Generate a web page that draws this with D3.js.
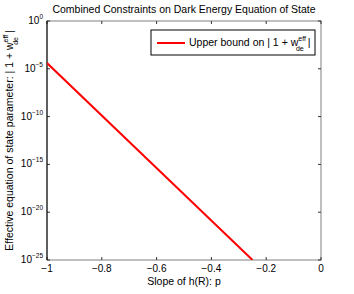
<!DOCTYPE html>
<html>
<head>
<meta charset="utf-8">
<script src="https://cdn.jsdelivr.net/npm/d3@7"></script>
<style>
body { margin: 0; background: #fff; }
text { font-family: "Liberation Sans", Arial, sans-serif; }
</style>
</head>
<body>
<script>
// values
var slopeP = [-1, -0.25];
var upperBound = [4e-5, 1e-25];
var xTicks = [-1, -0.8, -0.6, -0.4, -0.2, 0];
var yTickExp = [0, -5, -10, -15, -20, -25];

var width = 354, height = 294;
var pLeft = 47, pRight = 321, pTop = 21, pBottom = 260;

var svg = d3.select("body").append("svg")
  .attr("width", width).attr("height", height);

var x = d3.scaleLinear().domain([-1, 0]).range([pLeft, pRight]);
var y = d3.scaleLog().domain([1e-25, 1]).range([pBottom, pTop]);

svg.append("defs").append("clipPath").attr("id", "clip")
  .append("rect").attr("x", pLeft).attr("y", pTop)
  .attr("width", pRight - pLeft).attr("height", pBottom - pTop);

// box
svg.append("rect").attr("x", pLeft).attr("y", pTop)
  .attr("width", pRight - pLeft).attr("height", pBottom - pTop)
  .attr("fill", "none").attr("stroke", "#808080").attr("stroke-width", 1);

// ticks
var fmt = function(d){ return d === 0 ? "0" : String(d).replace("-", "\u2212"); };
xTicks.forEach(function(t){
  svg.append("line").attr("x1", x(t)).attr("x2", x(t))
    .attr("y1", pBottom).attr("y2", pBottom - 3).attr("stroke", "#333");
  svg.append("line").attr("x1", x(t)).attr("x2", x(t))
    .attr("y1", pTop).attr("y2", pTop + 3).attr("stroke", "#333");
  svg.append("text").attr("x", x(t)).attr("y", pBottom + 12)
    .attr("text-anchor", "middle").attr("font-size", 10).text(fmt(t));
});

yTickExp.forEach(function(e){
  var yy = y(Math.pow(10, e));
  svg.append("line").attr("x1", pLeft).attr("x2", pLeft + 3)
    .attr("y1", yy).attr("y2", yy).attr("stroke", "#333");
  svg.append("line").attr("x1", pRight).attr("x2", pRight - 3)
    .attr("y1", yy).attr("y2", yy).attr("stroke", "#333");
  var t = svg.append("text").attr("x", pLeft - 4).attr("y", yy + 3)
    .attr("text-anchor", "end").attr("font-size", 10);
  t.append("tspan").text("10");
  t.append("tspan").attr("dy", -5).attr("font-size", 6.5).text(e === 0 ? "0" : "\u2212" + (-e));
});

// left axis drawn black
svg.append("line").attr("x1", pLeft).attr("x2", pLeft)
  .attr("y1", pTop).attr("y2", pBottom).attr("stroke", "#000");

// data line
var line = d3.line()
  .x(function(d, i){ return x(slopeP[i]); })
  .y(function(d){ return y(d); });
svg.append("path").datum(upperBound)
  .attr("clip-path", "url(#clip)")
  .attr("d", line).attr("fill", "none")
  .attr("stroke", "#ff0000").attr("stroke-width", 2);

// legend
svg.append("rect").attr("x", 151).attr("y", 30).attr("width", 164).attr("height", 25)
  .attr("fill", "#fff").attr("stroke", "#000").attr("stroke-width", 1);
svg.append("line").attr("x1", 157).attr("x2", 185).attr("y1", 43).attr("y2", 43)
  .attr("stroke", "#ff0000").attr("stroke-width", 2);
var lg = svg.append("text").attr("x", 189).attr("y", 46).attr("font-size", 10.5);
lg.append("tspan").text("Upper bound on | 1 + w");
lg.append("tspan").attr("dy", -5).attr("font-size", 7).text("eff");
lg.append("tspan").attr("dx", -10).attr("dy", 10).attr("font-size", 7).text("de");
lg.append("tspan").attr("dx", 4).attr("dy", -5).text("|");

// title
svg.append("text").attr("x", 184).attr("y", 13).attr("text-anchor", "middle")
  .attr("font-size", 10.5).text("Combined Constraints on Dark Energy Equation of State");

// x label
svg.append("text").attr("x", 184).attr("y", 285).attr("text-anchor", "middle")
  .attr("font-size", 10.5).text("Slope of h(R): p");

// y label
var yl = svg.append("text").attr("transform", "translate(13," + ((pTop + pBottom) / 2) + ") rotate(-90)")
  .attr("text-anchor", "middle").attr("font-size", 10.5);
yl.append("tspan").text("Effective equation of state parameter: | 1 + w");
yl.append("tspan").attr("dy", -5).attr("font-size", 7).text("eff");
yl.append("tspan").attr("dx", -10).attr("dy", 10).attr("font-size", 7).text("de");
yl.append("tspan").attr("dx", 4).attr("dy", -5).text("|");
</script>
</body>
</html>
